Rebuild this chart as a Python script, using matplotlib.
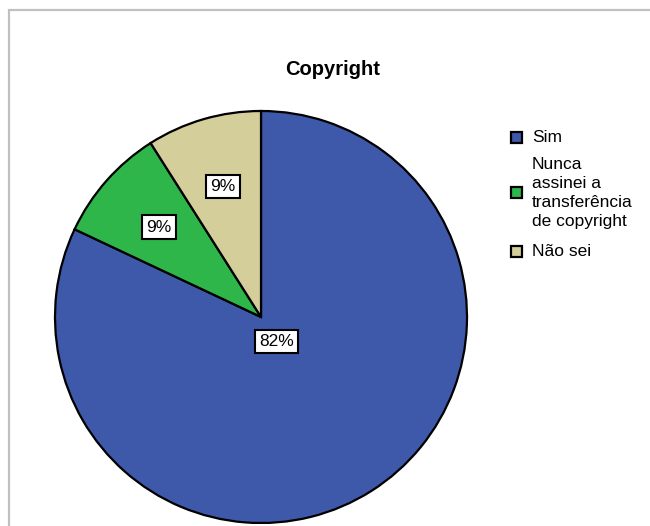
import numpy as np
import matplotlib.pyplot as plt
from matplotlib.patches import Rectangle

plt.rcParams['font.family'] = ['Liberation Sans', 'DejaVu Sans']

# data
categories = ['Sim', 'Nunca\nassinei a\ntransferência\nde copyright', 'Não sei']
values = [82, 9, 9]
colors = ['#3E58AA', '#2EB64A', '#D4CE9B']
label_r = [0.14, 0.66, 0.66]

fig = plt.figure(figsize=(6.5, 5.26), dpi=100)

# gray frame (only top and left visible)
fig.add_artist(Rectangle((9 / 650, -0.2), 1.2, 1.2 - 10 / 526,
                         transform=fig.transFigure, fill=False,
                         edgecolor='#c0c0c0', linewidth=1.6))

# pie axes: center (261, 317) px, radius 206 px
cx, cy, r = 261, 317, 206
ax = fig.add_axes([(cx - r) / 650, (526 - cy - r) / 526, 2 * r / 650, 2 * r / 526])
wedges, _ = ax.pie(values, colors=colors, startangle=90, counterclock=False,
                   wedgeprops=dict(edgecolor='black', linewidth=1.6))
for w in wedges:
    w.set_clip_on(False)
ax.set_xlim(-1, 1)
ax.set_ylim(-1, 1)
ax.set_aspect('auto')
ax.axis('off')

# percentage labels
total = sum(values)
for w, v, rr in zip(wedges, values, label_r):
    ang = np.deg2rad((w.theta1 + w.theta2) / 2)
    ax.text(rr * np.cos(ang), rr * np.sin(ang), f'{v / total * 100:.0f}%',
            ha='center', va='center', fontsize=12.5,
            bbox=dict(boxstyle='square,pad=0.25', facecolor='white',
                      edgecolor='black', linewidth=1.5))

# title
fig.text(333 / 650, 1 - 69 / 526, 'Copyright', ha='center', va='center',
         fontsize=14.5, fontweight='bold')

# legend
leg_y = [137, 193, 251]
for lab, col, yy in zip(categories, colors, leg_y):
    fig.add_artist(Rectangle((511 / 650, 1 - (yy + 5.5) / 526), 11 / 650, 11 / 526,
                             transform=fig.transFigure, facecolor=col,
                             edgecolor='black', linewidth=1.6))
    fig.text(532 / 650, 1 - yy / 526, lab, ha='left', va='center',
             fontsize=12.5, linespacing=1.32)

fig.savefig('out.png', dpi=100)
